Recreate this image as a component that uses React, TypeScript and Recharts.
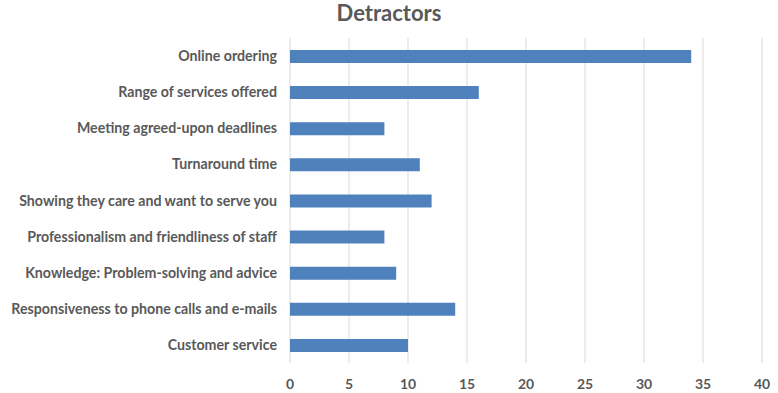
import { BarChart, Bar, XAxis, YAxis, CartesianGrid } from 'recharts';

const categories = [
  'Online ordering',
  'Range of services offered',
  'Meeting agreed-upon deadlines',
  'Turnaround time',
  'Showing they care and want to serve you',
  'Professionalism and friendliness of staff',
  'Knowledge: Problem-solving and advice',
  'Responsiveness to phone calls and e-mails',
  'Customer service',
];
const detractors = [34, 16, 8, 11, 12, 8, 9, 14, 10];
const xTicks = [0, 5, 10, 15, 20, 25, 30, 35, 40];

const data = categories.map((name, i) => ({ name, value: detractors[i] }));

const FONT = 'Lato, "Open Sans", sans-serif';
const TEXT = '#595959';

export default function App() {
  return (
    <div style={{ position: 'absolute', left: 0, top: 0, width: 778, height: 393, background: '#fff', fontFamily: FONT }}>
      <div
        style={{
          position: 'absolute',
          top: -1,
          left: 0,
          width: 778,
          textAlign: 'center',
          fontSize: 22,
          fontWeight: 700,
          color: TEXT,
          lineHeight: '28px',
        }}
      >
        Detractors
      </div>
      <BarChart
        width={778}
        height={393}
        data={data}
        layout="vertical"
        margin={{ top: 38, right: 16, left: 0, bottom: 0 }}
        barCategoryGap={0}
      >
        <CartesianGrid horizontal={false} stroke="#d9d9d9" />
        <XAxis
          type="number"
          domain={[0, 40]}
          ticks={xTicks}
          interval={0}
          axisLine={false}
          tickLine={false}
          tickMargin={10}
          tick={{ fill: TEXT, fontSize: 14, fontWeight: 700, fontFamily: FONT }}
          height={30}
        />
        <YAxis
          type="category"
          dataKey="name"
          width={290}
          axisLine={false}
          tickLine={false}
          tickMargin={7}
          interval={0}
          tick={{ fill: TEXT, fontSize: 14.2, fontWeight: 700, fontFamily: FONT }}
        />
        <Bar dataKey="value" fill="#4f81bd" barSize={13} isAnimationActive={false} />
      </BarChart>
    </div>
  );
}
